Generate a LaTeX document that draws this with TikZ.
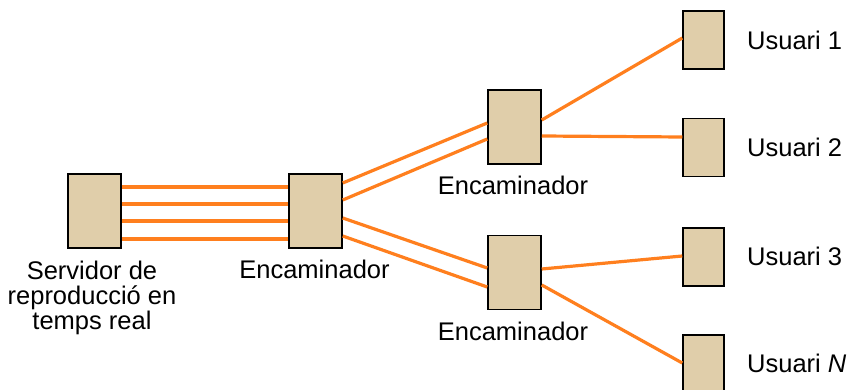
\documentclass[tikz,border=0pt]{standalone}
\usepackage{fontspec}
\setmainfont{Liberation Sans}
\definecolor{boxfill}{RGB}{224,206,170}
\definecolor{link}{RGB}{255,127,30}
\begin{document}
\begin{tikzpicture}[x=1pt,y=-1pt,
  dev/.style={draw=black,line width=1.5pt,fill=boxfill,inner sep=0pt,minimum width=53pt,minimum height=74pt},
  usr/.style={draw=black,line width=1.5pt,fill=boxfill,inner sep=0pt,minimum width=41pt,minimum height=58pt},
  lbl/.style={font=\fontsize{25.5}{25}\selectfont,inner sep=0pt,align=center},
  ln/.style={draw=link,line width=3.2pt}]
\useasboundingbox (0,0) rectangle (849,390);
\node[dev] (srv) at (94.5,211) {};
\node[dev] (r1) at (315.5,211) {};
\node[dev] (r2) at (514.5,127) {};
\node[dev] (r3) at (514.5,272.5) {};
\node[usr] (u1) at (703.5,40) {};
\node[usr] (u2) at (703.5,147.5) {};
\node[usr] (u3) at (703.5,257) {};
\node[usr] (uN) at (703.5,364) {};
% labels
\node[lbl,anchor=north] (lsrv) at (92,261) {Servidor de\\reproducció en\\temps real};
\node[lbl] (lr1) at (314.5,269.5) {Encaminador};
\node[lbl] (lr2) at (513,185) {Encaminador};
\node[lbl] (lr3) at (513,331) {Encaminador};
\node[lbl,anchor=west] (lu1) at (747,40) {Usuari 1};
\node[lbl,anchor=west] (lu2) at (747,147) {Usuari 2};
\node[lbl,anchor=west] (lu3) at (747,256) {Usuari 3};
\node[lbl,anchor=west] (luN) at (747,363) {Usuari \textit{N}};
% links
\foreach \s in {24,7,-10,-28}
  \draw[ln] ([yshift=\s pt]srv.east) -- ([yshift=\s pt]r1.west);
\draw[ln] ([yshift=28pt]r1.east) -- ([yshift=4pt]r2.west);
\draw[ln] ([yshift=11pt]r1.east) -- ([yshift=-12pt]r2.west);
\draw[ln] ([yshift=-7pt]r1.east) -- ([yshift=4.5pt]r3.west);
\draw[ln] ([yshift=-25pt]r1.east) -- ([yshift=-14.5pt]r3.west);
\draw[ln] ([yshift=7pt]r2.east) -- ([yshift=2pt]u1.west);
\draw[ln] ([yshift=-9pt]r2.east) -- ([yshift=10.5pt]u2.west);
\draw[ln] ([yshift=3.5pt]r3.east) -- ([yshift=1pt]u3.west);
\draw[ln] ([yshift=-12.5pt]r3.east) -- ([yshift=1pt]uN.west);
\end{tikzpicture}
\end{document}
